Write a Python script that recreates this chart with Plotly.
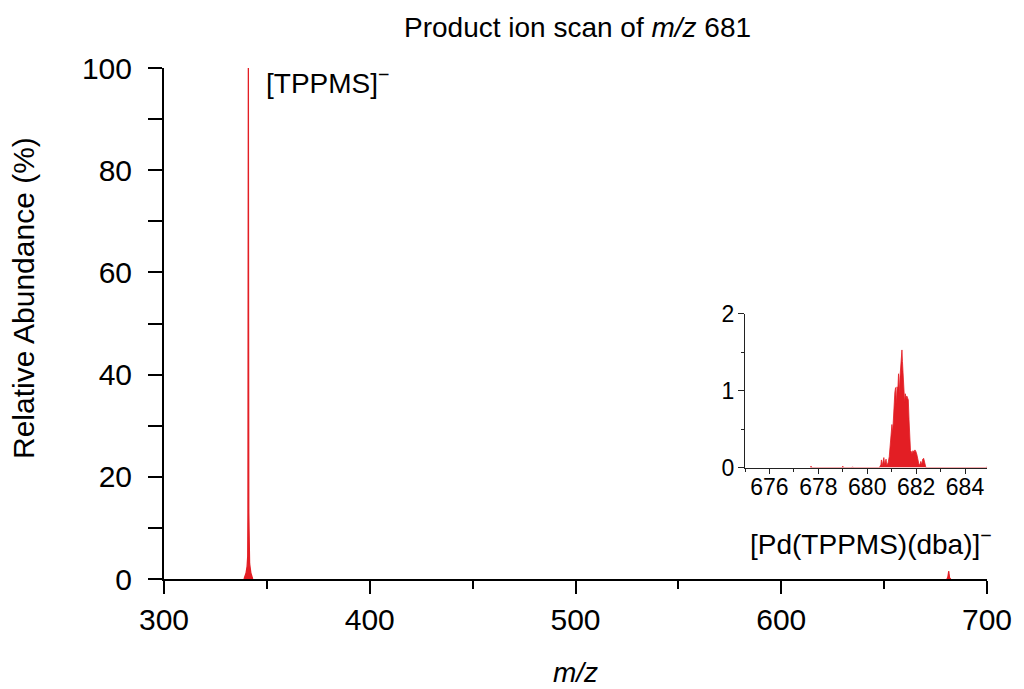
import plotly.graph_objects as go

# ---- spectrum data (m/z, relative abundance %) ----
# [TPPMS]- fragment
tppms_mz = [338.9, 339.3, 339.9, 340.4, 340.7, 340.8, 340.9, 340.95, 341.0,
            341.05, 341.1, 341.2, 341.3, 341.6, 342.2, 342.8, 343.1]
tppms_int = [0.0, 0.5, 1.2, 2.5, 4.5, 13.0, 52.0, 71.0, 100.0,
             72.0, 50.0, 13.0, 5.0, 3.0, 1.2, 0.4, 0.0]

# [Pd(TPPMS)(dba)]- precursor cluster
pd_mz = [680.50, 680.56, 680.58, 680.61, 680.65, 680.68, 680.71, 680.74, 680.77,
         680.80, 680.85, 680.90, 680.94, 680.98, 681.01, 681.04, 681.07, 681.10,
         681.13, 681.16, 681.19, 681.22, 681.25, 681.28, 681.31, 681.34, 681.37,
         681.40, 681.42, 681.44, 681.47, 681.50, 681.53, 681.56, 681.59, 681.62,
         681.65, 681.68, 681.71, 681.74, 681.77, 681.80, 681.83, 681.87, 681.91,
         681.95, 681.99, 682.03, 682.07, 682.11, 682.15, 682.19, 682.23, 682.27,
         682.31, 682.35, 682.40]
pd_int = [0.00, 0.04, 0.10, 0.02, 0.08, 0.13, 0.04, 0.09, 0.11,
          0.03, 0.06, 0.14, 0.30, 0.48, 0.56, 0.45, 0.66, 0.72,
          0.98, 1.04, 0.82, 1.05, 1.00, 1.22, 0.96, 1.18, 1.30,
          1.45, 1.53, 1.38, 1.15, 1.02, 0.85, 0.96, 0.90, 0.93,
          0.91, 0.88, 0.62, 0.40, 0.22, 0.21, 0.18, 0.22, 0.20,
          0.23, 0.21, 0.17, 0.09, 0.05, 0.03, 0.08, 0.04, 0.11,
          0.12, 0.04, 0.00]

# isolated baseline spikes inside the zoomed window
noise_mz = [677.7, 679.0, 679.4, 684.9]
noise_int = [0.02, 0.02, 0.01, 0.01]

# axis ticks
main_xticks = [300, 400, 500, 600, 700]
main_yticks = [0, 20, 40, 60, 80, 100]
inset_xticks = [676, 678, 680, 682, 684]
inset_yticks = [0, 1, 2]

RED = "#E31E24"
FONT = "Liberation Sans, Arial, sans-serif"

# zoomed spectrum: thin spikes for isolated points plus the cluster
pts = []
for m, h in zip(noise_mz, noise_int):
    pts += [(m - 0.02, 0.0), (m, h), (m + 0.02, 0.0)]
pts += list(zip(pd_mz, pd_int))
pts.sort()
zoom_mz = [p[0] for p in pts]
zoom_int = [p[1] for p in pts]

fig = go.Figure()
# full range: each cluster drawn as its own filled profile
for mz, inten in ((tppms_mz, tppms_int), (pd_mz, pd_int)):
    fig.add_trace(go.Scatter(x=mz, y=inten, mode="lines",
                             line=dict(color=RED, width=1.3),
                             fill="tozeroy", fillcolor=RED,
                             xaxis="x", yaxis="y", showlegend=False))
# inset: zoom on the precursor window
fig.add_trace(go.Scatter(x=zoom_mz, y=zoom_int, mode="lines",
                         line=dict(color=RED, width=0.8),
                         fill="tozeroy", fillcolor=RED,
                         xaxis="x2", yaxis="y2", showlegend=False))


def axis(color, **kw):
    base = dict(showgrid=False, zeroline=False, showline=True,
                linecolor=color, ticks="outside", tickcolor=color, mirror=False)
    base.update(kw)
    return base


fig.update_layout(
    width=1024, height=689,
    paper_bgcolor="white", plot_bgcolor="white",
    margin=dict(l=164, r=31, t=68, b=110),
    font=dict(family=FONT, color="black"),
    xaxis=axis("black", domain=[0, 1], range=[300, 700],
               tickvals=main_xticks, linewidth=2, tickwidth=2, ticklen=13,
               tickfont=dict(size=30, family=FONT),
               minor=dict(dtick=50, ticklen=8, tickwidth=2, ticks="outside",
                          tickcolor="black", showgrid=False)),
    yaxis=axis("black", domain=[0, 1], range=[0, 100],
               tickvals=main_yticks, linewidth=2, tickwidth=2, ticklen=14,
               ticklabelstandoff=10,
               tickfont=dict(size=30, family=FONT),
               minor=dict(dtick=10, ticklen=14, tickwidth=2, ticks="outside",
                          tickcolor="black", showgrid=False)),
    xaxis2=axis("#222", anchor="y2", domain=[0.706, 1.0],
                range=[675, 684.9], tickvals=inset_xticks,
                linewidth=1.2, tickwidth=1.2, ticklen=5,
                ticklabelstandoff=-6,
                tickfont=dict(size=23, family=FONT),
                minor=dict(dtick=1, ticklen=3, tickwidth=1.2, ticks="outside",
                           tickcolor="#222", showgrid=False)),
    yaxis2=axis("#222", anchor="x2", domain=[0.218, 0.519],
                range=[0, 2], tickvals=inset_yticks,
                linewidth=1.2, tickwidth=1.2, ticklen=6,
                ticklabelstandoff=-1,
                tickfont=dict(size=23, family=FONT),
                minor=dict(dtick=0.5, ticklen=3, tickwidth=1.2, ticks="outside",
                           tickcolor="#222", showgrid=False)),
)

fig.add_annotation(text="Product ion scan of <i>m/z</i> 681",
                   xref="paper", yref="paper", x=0.502, y=1.079,
                   xanchor="center", yanchor="middle", showarrow=False,
                   font=dict(size=28, family=FONT))
fig.add_annotation(text="<i>m/z</i>", xref="paper", yref="paper",
                   x=0.5, y=-0.182, xanchor="center", yanchor="middle",
                   showarrow=False, font=dict(size=28, family=FONT))
fig.add_annotation(text="Relative Abundance (%)", xref="paper", yref="paper",
                   x=-0.17, y=0.55, xanchor="center", yanchor="middle",
                   textangle=-90, showarrow=False, font=dict(size=30, family=FONT))
fig.add_annotation(text="[TPPMS]<sup>−</sup>", xref="x", yref="y",
                   x=348.5, y=97.4, xanchor="left", yanchor="middle",
                   showarrow=False, font=dict(size=28, family=FONT))
fig.add_annotation(text="[Pd(TPPMS)(dba)]<sup>−</sup>", xref="x", yref="y",
                   x=584.0, y=7.2, xanchor="left", yanchor="middle",
                   showarrow=False, font=dict(size=28, family=FONT))

fig.write_html("out.html")
